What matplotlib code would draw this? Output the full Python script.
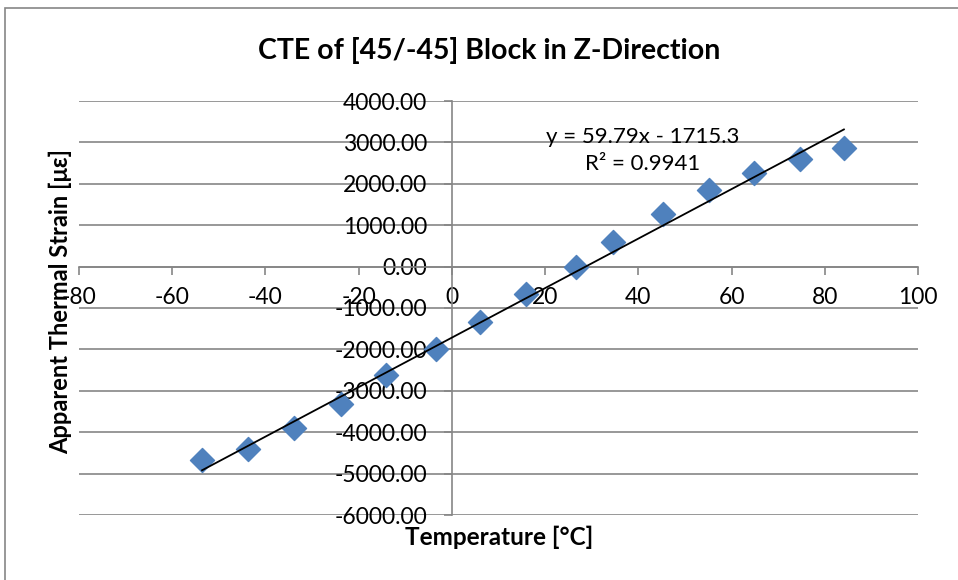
import matplotlib.pyplot as plt
from matplotlib.patches import Rectangle
import numpy as np

plt.rcParams['font.family'] = ['Lato', 'DejaVu Sans']
plt.rcParams['axes.unicode_minus'] = False

# measured temperatures and apparent strains
temperature = [-53.6, -43.8, -33.9, -23.8, -14.2, -3.4, 6.0, 15.9, 26.6,
               34.5, 45.3, 55.2, 64.8, 74.7, 84.1]
strain = [-4660, -4400, -3910, -3310, -2630, -1980, -1330, -650, -20,
          600, 1260, 1840, 2270, 2610, 2870]

# linear trendline reported by the spreadsheet
slope = 59.79
intercept = -1715.3
r_squared = 0.9941

fig = plt.figure(figsize=(9.58, 5.8), dpi=100)
fig.patches.append(Rectangle((5 / 958, -0.01), 1.0, 1 - 8 / 580 + 0.01,
                             transform=fig.transFigure, fill=False,
                             edgecolor='#868686', linewidth=1.2))

ax = fig.add_axes([79 / 958, 1 - 515 / 580, (918 - 79) / 958, (515 - 101) / 580])

ax.scatter(temperature, strain, marker='D', s=150, color='#4F81BD',
           edgecolors='#4F81BD', zorder=3)

fit_x = np.array([min(temperature), max(temperature)])
ax.plot(fit_x, slope * fit_x + intercept, color='black', linewidth=1.3, zorder=4)

ax.set_xlim(-80, 100)
ax.set_ylim(-6000, 4000)
ax.set_xticks(range(-80, 101, 20))
ax.set_yticks(range(-6000, 4001, 1000))
ax.set_yticklabels(['%.2f' % v for v in range(-6000, 4001, 1000)])

ax.grid(axis='y', color='#868686', linewidth=1.2)
ax.set_axisbelow(True)

for side in ['top', 'right']:
    ax.spines[side].set_visible(False)
ax.spines['left'].set_position(('data', 0))
ax.spines['bottom'].set_position(('data', 0))
ax.spines['left'].set_color('#868686')
ax.spines['bottom'].set_color('#868686')
ax.spines['left'].set_linewidth(1.2)
ax.spines['bottom'].set_linewidth(1.2)

ax.tick_params(axis='x', direction='out', length=6, width=1.2, color='#868686',
               labelsize=16.5, pad=9)
ax.tick_params(axis='y', direction='out', length=6, width=1.2, color='#868686',
               labelsize=16.5, pad=12)

ax.text(41, 2800, 'y = %.2fx - %.1f\nR² = %.4f' % (slope, -intercept, r_squared),
        ha='center', va='center', fontsize=16, linespacing=1.45)

fig.text(489 / 958, 1 - 50 / 580, 'CTE of [45/-45] Block in Z-Direction',
         ha='center', va='center', fontsize=20.5, fontweight='bold')
fig.text(499 / 958, 1 - 537 / 580, 'Temperature [°C]', ha='center', va='center',
         fontsize=17.5, fontweight='bold')
fig.text(60 / 958, 1 - 302 / 580, 'Apparent Thermal Strain [με]', ha='center',
         va='center', rotation=90, fontsize=17, fontweight='bold')

fig.savefig('out.png', dpi=100)
